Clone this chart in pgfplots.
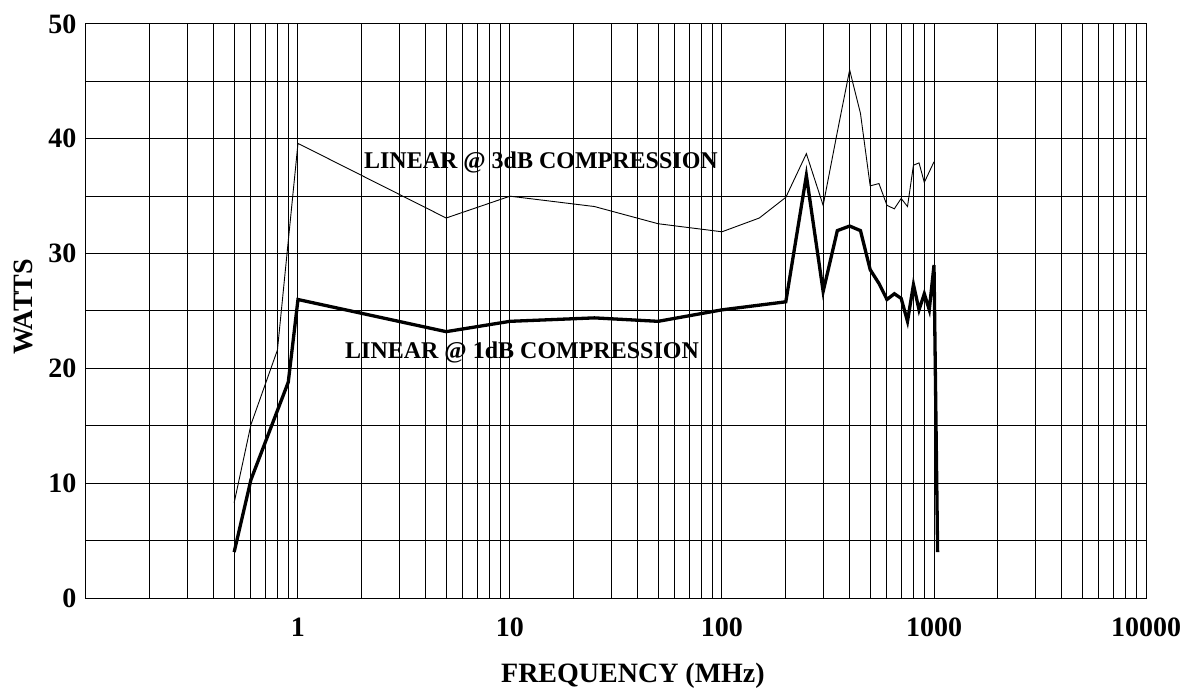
\documentclass[border=0pt]{standalone}
\usepackage{fontspec}
\setmainfont{Liberation Serif}
\usepackage{pgfplots}
\pgfplotsset{compat=1.18}

\begin{document}
\begin{tikzpicture}
\begin{axis}[
    scale only axis,
    width=1060pt,
    height=574pt,
    xmode=log,
    xmin=0.1, xmax=10000,
    ymin=0, ymax=50,
    xtick={1,10,100,1000,10000},
    xticklabels={1,10,100,1000,10000},
    minor xtick={0.2,0.3,0.4,0.5,0.6,0.7,0.8,0.9,
                 2,3,4,5,6,7,8,9,
                 20,30,40,50,60,70,80,90,
                 200,300,400,500,600,700,800,900,
                 2000,3000,4000,5000,6000,7000,8000,9000},
    ytick={0,10,20,30,40,50},
    minor ytick={5,15,25,35,45},
    grid=both,
    major grid style={black, line width=1pt},
    minor grid style={black, line width=1pt},
    axis line style={black, line width=1pt},
    major tick length=0pt,
    minor tick length=0pt,
    /pgf/number format/assume math mode=true,
    tick label style={font=\fontsize{28}{28}\selectfont\bfseries},
    xticklabel style={yshift=-16pt},
    yticklabel style={xshift=-6pt},
    xlabel={FREQUENCY (MHz)},
    ylabel={WATTS},
    label style={font=\fontsize{28}{28}\selectfont\bfseries},
    xlabel style={at={(axis description cs:0.516,-0.148)}, anchor=base},
    ylabel style={at={(axis description cs:-0.0594,0.507)}, anchor=center},
]
% LINEAR @ 3dB COMPRESSION
\addplot[black, line width=0.9pt] coordinates {
    (0.5,8.3) (0.6,15.1) (0.8,21.6) (1,39.6) (5,33.1) (10,35.0)
    (25,34.1) (50,32.6) (100,31.9) (150,33.1) (200,34.9) (250,38.7)
    (300,34.2) (350,40.6) (400,46.0) (450,42.2) (500,35.9) (550,36.1)
    (600,34.2) (650,33.9) (700,34.8) (750,34.1) (800,37.7) (850,37.9)
    (900,36.2) (1000,38.0)
};
% LINEAR @ 1dB COMPRESSION
\addplot[black, line width=3.3pt, line join=miter] coordinates {
    (0.5,4.0) (0.6,10.3) (0.9,18.8) (1,26.0) (5,23.2) (10,24.1)
    (25,24.4) (50,24.1) (100,25.1) (200,25.8) (250,36.8) (300,26.7)
    (350,32.0) (400,32.4) (450,32.0) (500,28.6) (550,27.4) (600,26.0)
    (650,26.5) (700,26.1) (750,24.1) (800,27.3) (850,25.1) (900,26.5)
    (950,25.1) (1000,29.0) (1040,4.0)
};
\node[font=\fontsize{24}{24}\selectfont\bfseries] at (axis cs:14,37.9) {LINEAR @ 3dB COMPRESSION};
\node[font=\fontsize{24}{24}\selectfont\bfseries] at (axis cs:11.4,21.4) {LINEAR @ 1dB COMPRESSION};
\coordinate (bl) at (axis description cs:-0.0811,-0.1551);
\coordinate (tr) at (axis description cs:1.0330,1.0418);
\end{axis}
\pgfresetboundingbox
\path[use as bounding box] (bl) rectangle (tr);
\end{tikzpicture}
\end{document}
